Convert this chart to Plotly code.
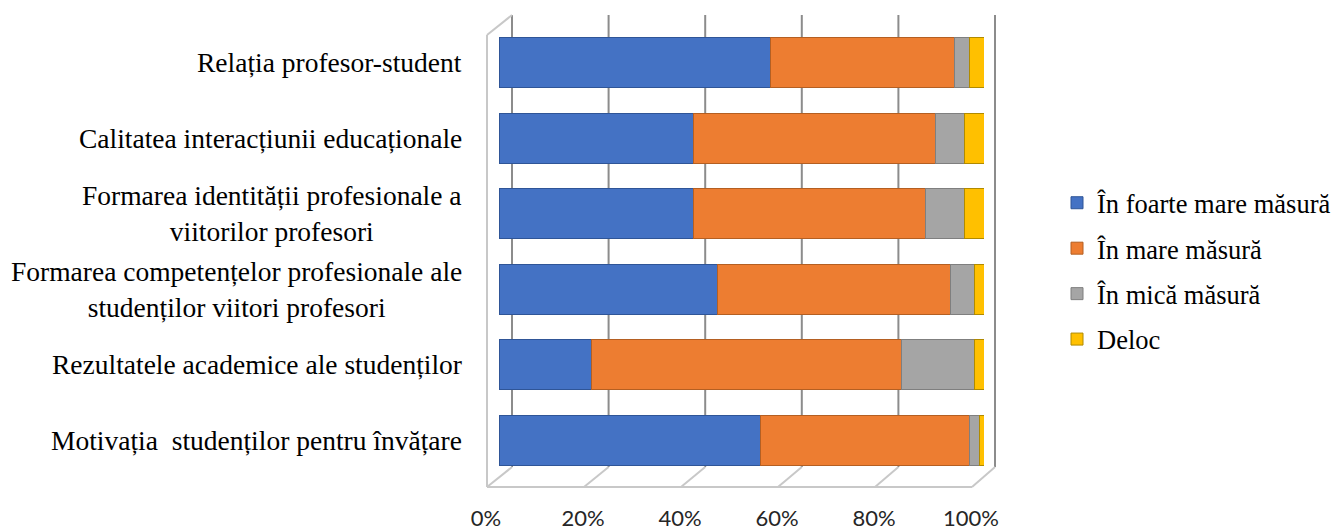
import plotly.graph_objects as go

categories = [
    "Relația profesor-student",
    "Calitatea interacțiunii educaționale",
    "Formarea identității profesionale a<br>viitorilor profesori",
    "Formarea competențelor profesionale ale<br>studenților viitori profesori",
    "Rezultatele academice ale studenților",
    "Motivația  studenților pentru învățare",
]
series_names = ["În foarte mare măsură", "În mare măsură", "În mică măsură", "Deloc"]
foarte_mare = [56, 40, 40, 45, 19, 54]
mare = [38, 50, 48, 48, 64, 43]
mica = [3, 6, 8, 5, 15, 2]
deloc = [3, 4, 4, 2, 2, 1]
tick_vals = [0, 20, 40, 60, 80, 100]
tick_text = ["0%", "20%", "40%", "60%", "80%", "100%"]

colors = ["#4472C4", "#ED7D31", "#A5A5A5", "#FFC000"]
line_colors = ["#2F5597", "#B45F22", "#7F7F7F", "#B08A00"]

# page body has an 8px margin; work in page pixels and convert
OFF = 8
W, H = 1344 - OFF, 532 - OFF
PL, PR, PT, PB = 499, 984, 25, 478          # plot area in page pixels
L, R, T, B = PL - OFF, PR - OFF, PT - OFF, PB - OFF

fig = go.Figure()
for name, vals, c, lc in zip(series_names, [foarte_mare, mare, mica, deloc], colors, line_colors):
    fig.add_trace(go.Bar(
        y=categories, x=vals, name=name, orientation="h",
        marker=dict(color=c, line=dict(color=lc, width=1)),
        legendgroup=name, width=0.66,
        hovertemplate="%{y}: %{x}%<extra>" + name + "</extra>",
    ))

# category labels, centred lines, right edge next to the chart
for cat in categories:
    fig.add_annotation(x=0, xref="paper", y=cat, yref="y", text=cat, showarrow=False,
                       xanchor="right", yanchor="middle", align="center", xshift=-35,
                       font=dict(family="Liberation Serif", size=27.5, color="#000000"))

# 3D-like frame drawn in paper coordinates (not clipped)
def xp(px):
    return (px - PL) / (PR - PL)

def yp(py):
    return 1 - (py - PT) / (PB - PT)

shapes = []
back_top, back_bot, front_bot = 15, 467, 487
grid_col = "#8C8C8C"
frame_col = "#C8C8C8"
for i, v in enumerate(tick_vals):
    xb = xp(512 + i * 96.6)
    xf = xp(487 + i * 97.0)
    shapes.append(dict(type="line", xref="paper", yref="paper", x0=xb, x1=xb,
                       y0=yp(back_top), y1=yp(back_bot),
                       line=dict(color=grid_col, width=2), layer="below"))
    shapes.append(dict(type="line", xref="paper", yref="paper", x0=xf, x1=xb,
                       y0=yp(front_bot), y1=yp(back_bot),
                       line=dict(color=frame_col, width=2), layer="below"))
shapes.append(dict(type="line", xref="paper", yref="paper", x0=xp(487), x1=xp(972),
                   y0=yp(front_bot), y1=yp(front_bot),
                   line=dict(color=frame_col, width=2), layer="below"))
shapes.append(dict(type="line", xref="paper", yref="paper", x0=xp(487), x1=xp(487),
                   y0=yp(front_bot), y1=yp(35),
                   line=dict(color=frame_col, width=2), layer="below"))
shapes.append(dict(type="line", xref="paper", yref="paper", x0=xp(487), x1=xp(512),
                   y0=yp(35), y1=yp(back_top),
                   line=dict(color=frame_col, width=2), layer="below"))

fig.update_layout(
    width=W, height=H,
    margin=dict(l=L, r=W - R, t=T, b=H - B, autoexpand=False),
    barmode="stack",
    plot_bgcolor="white", paper_bgcolor="white",
    shapes=shapes,
    xaxis=dict(range=[0, 100], tickvals=tick_vals, ticktext=tick_text,
               showgrid=False, zeroline=False, showline=False, ticks="",
               ticklabelshift=-13, ticklabelstandoff=25,
               tickfont=dict(family="Lato", size=22, color="#262626")),
    yaxis=dict(autorange="reversed", showgrid=False, zeroline=False, showline=False,
               ticks="", showticklabels=False),
    legend=dict(x=(1057 - PL) / (PR - PL), y=yp(271), xanchor="left", yanchor="middle",
                traceorder="grouped", tracegroupgap=8,
                font=dict(family="Liberation Serif", size=26.5, color="#000000"),
                itemwidth=30),
    showlegend=True,
)

fig.write_html("out.html")
